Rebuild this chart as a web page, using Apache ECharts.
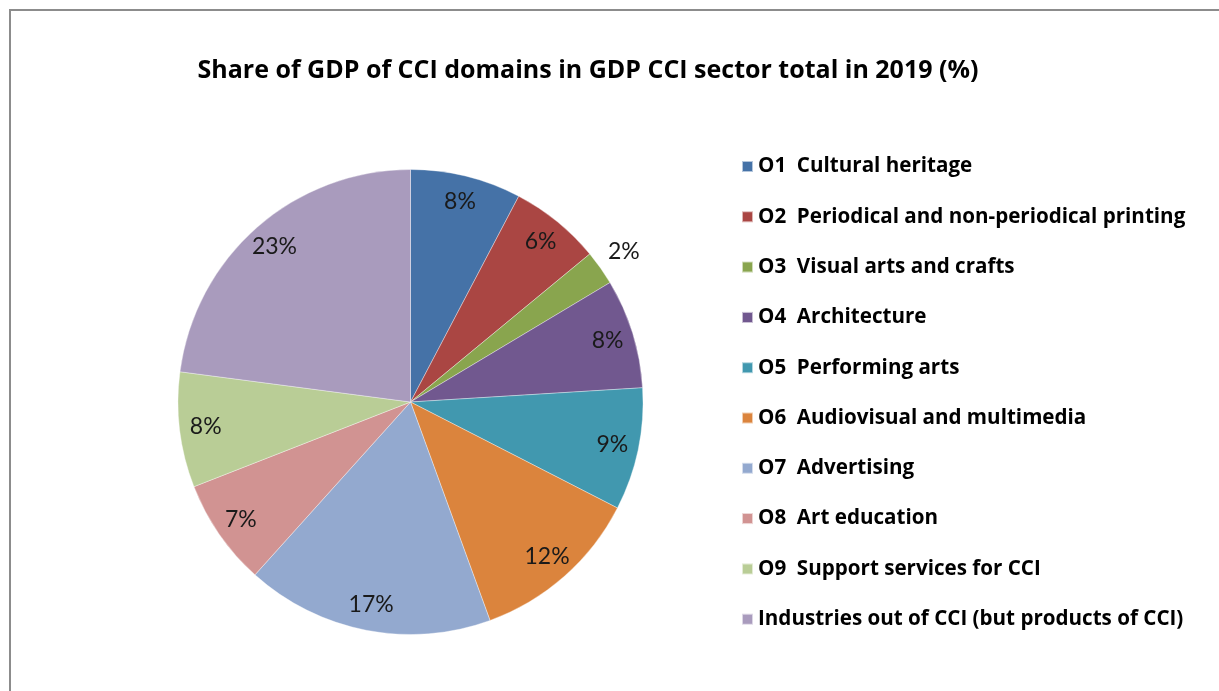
<!DOCTYPE html>
<html>
<head>
<meta charset="utf-8">
<script src="https://cdn.jsdelivr.net/npm/echarts@6/dist/echarts.min.js"></script>
<style>
html,body{margin:0;padding:0;background:#fff;overflow:hidden;}
#chart{position:absolute;left:0;top:0;width:1219px;height:691px;}
#frame{position:absolute;left:9px;top:9px;width:1300px;height:800px;border:2px solid #8c8c8c;box-sizing:border-box;pointer-events:none;}
</style>
</head>
<body>
<div id="chart"></div>
<div id="frame"></div>
<script>
const titleText = 'Share of GDP of CCI domains in GDP CCI sector total in 2019 (%)';
const categories = [
  'O1  Cultural heritage',
  'O2  Periodical and non-periodical printing',
  'O3  Visual arts and crafts',
  'O4  Architecture',
  'O5  Performing arts',
  'O6  Audiovisual and multimedia',
  'O7  Advertising',
  'O8  Art education',
  'O9  Support services for CCI',
  'Industries out of CCI (but products of CCI)'
];
const values = [7.7, 6.3, 2.4, 7.6, 8.5, 11.9, 17.2, 7.4, 8.0, 22.9];
const colors = ['#4572A7','#AA4643','#89A54E','#71588F','#4198AF','#DB843D','#93A9CF','#D19392','#B9CD96','#A99BBD'];
const outsideLabelIndex = [2];

const center = [410.5, 402];
const R = 232.5;

const mainData = categories.map((n, i) => ({name: n, value: values[i], itemStyle: {color: colors[i]}}));
const fmt = p => Math.round(p.value) + '%';
const innerLabelData = categories.map((n, i) => ({
  name: n, value: values[i],
  label: {show: outsideLabelIndex.indexOf(i) < 0}
}));
const outerLabelData = categories.map((n, i) => ({
  name: n, value: values[i],
  label: {show: outsideLabelIndex.indexOf(i) >= 0}
}));
const labelStyle = {position: 'inside', formatter: fmt, color: '#1a1a1a', fontFamily: 'Lato', fontSize: 23, fontWeight: 'normal'};

const chart = echarts.init(document.getElementById('chart'), null, {renderer: 'canvas'});
chart.setOption({
  animation: false,
  backgroundColor: '#fff',
  title: {
    text: titleText, left: 583, top: 51, textAlign: 'center',
    textStyle: {fontFamily: 'Open Sans', fontSize: 25, fontWeight: 'bold', color: '#000', lineHeight: 30}
  },
  legend: {
    orient: 'vertical', left: 736, top: 151,
    data: categories,
    icon: 'rect', itemWidth: 11, itemHeight: 11, itemGap: 29.3,
    textStyle: {fontFamily: 'Open Sans', fontSize: 20.6, fontWeight: 'bold', color: '#000', lineHeight: 20},
    selectedMode: false
  },
  series: [
    {
      type: 'pie', center: center, radius: [0, R], startAngle: 90, clockwise: true,
      data: mainData, label: {show: false}, labelLine: {show: false},
      itemStyle: {borderColor: 'rgba(255,255,255,0.6)', borderWidth: 0.6},
      silent: true
    },
    {
      type: 'pie', center: center, radius: [174, R], startAngle: 90, clockwise: true,
      data: innerLabelData, label: labelStyle, labelLine: {show: false},
      itemStyle: {color: 'rgba(0,0,0,0)'}, silent: true
    },
    {
      type: 'pie', center: center, radius: [R, 284], startAngle: 90, clockwise: true,
      data: outerLabelData, label: labelStyle, labelLine: {show: false},
      itemStyle: {color: 'rgba(0,0,0,0)'}, silent: true
    }
  ]
});
</script>
</body>
</html>
